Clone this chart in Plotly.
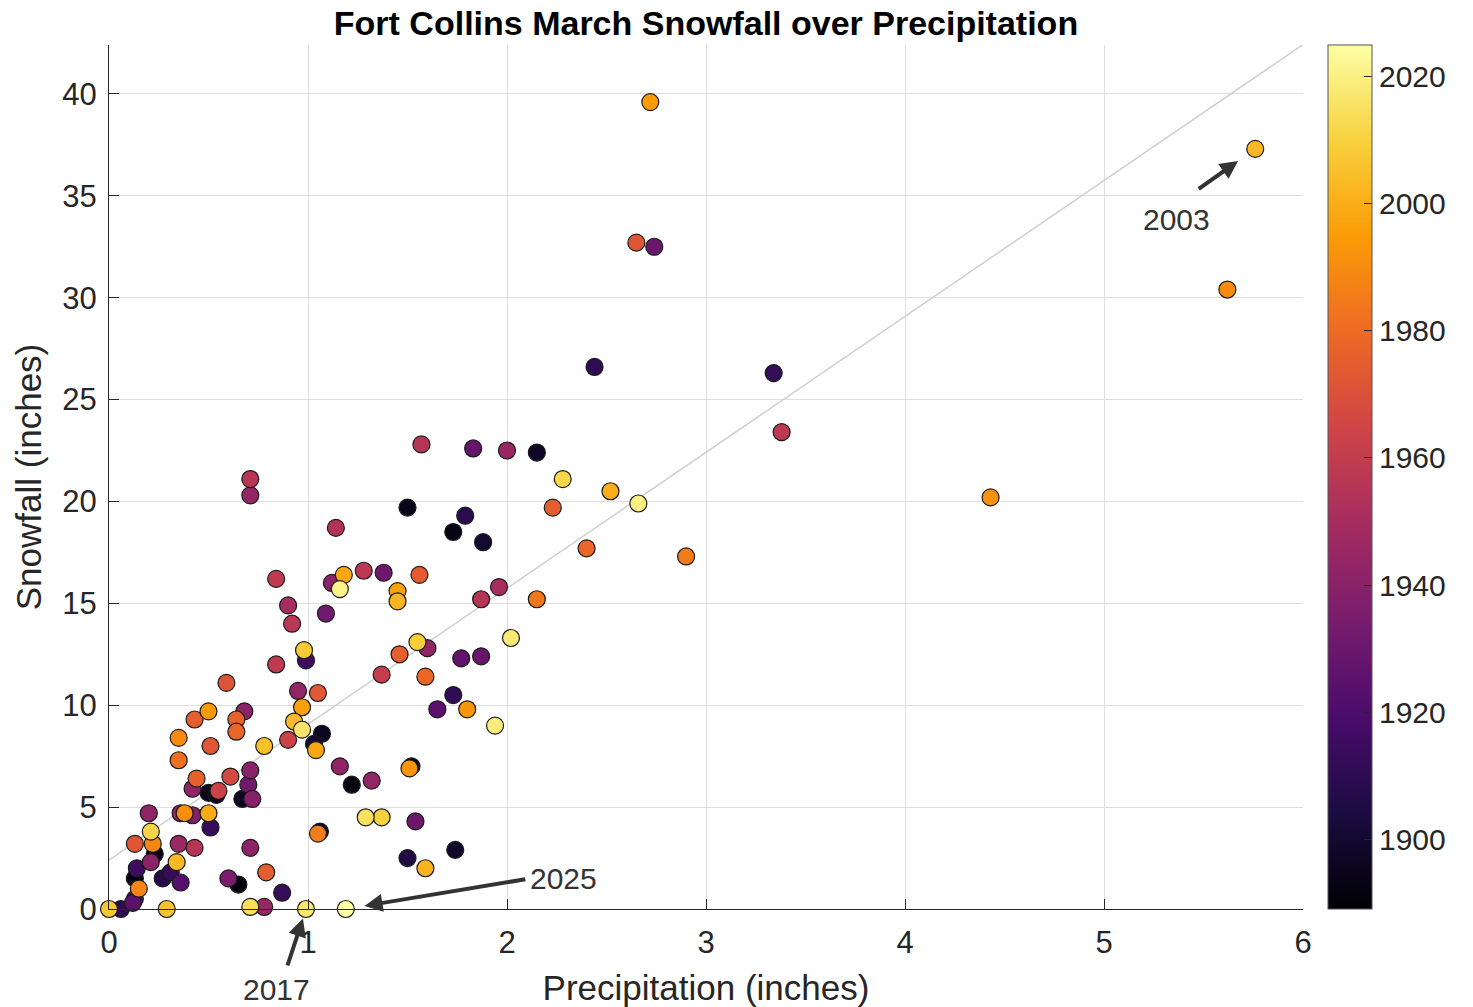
import numpy as np
import plotly.graph_objects as go

# ---- data (March totals, inches) ----
precip = [2.72, 5.76, 2.65, 2.74, 5.62, 2.44, 3.34, 3.38, 1.57, 1.83,
          2.00, 2.15, 0.71, 0.71, 2.28, 2.52, 2.66, 2.23, 4.43, 1.50,
          1.79, 1.73, 1.88, 1.14, 2.40, 2.90, 0.84, 1.12, 1.18, 1.16,
          1.28, 1.38, 1.56, 1.45, 1.45, 0.90, 0.92, 1.09, 0.98, 0.99,
          0.84, 1.87, 1.96, 2.15, 2.02, 1.55, 1.60, 1.46, 1.77, 1.87,
          1.37, 1.59, 0.95, 1.05, 1.73, 1.65, 1.80, 1.94, 0.97, 0.93,
          0.97, 0.90, 1.07, 1.03, 1.04, 1.16, 1.22, 1.32, 1.52, 1.51,
          1.29, 1.37, 1.54, 1.05, 1.06, 1.50, 1.74, 1.59, 0.99, 1.19,
          0.59, 0.50, 0.68, 0.43, 0.64, 0.64, 0.35, 0.51, 0.35, 0.78,
          0.44, 0.42, 0.50, 0.54, 0.55, 0.61, 0.71, 0.70, 0.67, 0.72,
          0.20, 0.36, 0.38, 0.42, 0.50, 0.51, 0.21, 0.22, 0.13, 0.23,
          0.21, 0.35, 0.43, 0.34, 0.14, 0.13, 0.15, 0.12, 0.13, 0.27,
          0.31, 0.36, 0.60, 0.65, 0.71, 0.79, 0.87, 0.00, 0.06, 0.29,
          0.71, 0.78]
snow = [39.6, 37.3, 32.7, 32.5, 30.4, 26.6, 26.3, 23.4, 22.8, 22.6,
        22.5, 22.4, 21.1, 20.3, 21.1, 20.5, 19.9, 19.7, 20.2, 19.7,
        19.3, 18.5, 18.0, 18.7, 17.7, 17.3, 16.2, 16.0, 16.4, 15.7,
        16.6, 16.5, 16.4, 15.6, 15.1, 14.9, 14.0, 14.5, 12.7, 12.2,
        12.0, 15.2, 15.8, 15.2, 13.3, 13.1, 12.8, 12.5, 12.3, 12.4,
        11.5, 11.4, 10.7, 10.6, 10.5, 9.8, 9.8, 9.0, 9.9, 9.2,
        8.8, 8.3, 8.6, 8.1, 7.8, 7.0, 6.1, 6.3, 7.0, 6.9,
        4.5, 4.5, 4.3, 3.7, 3.8, 2.5, 2.9, 2.0, 0.0, 0.0,
        11.1, 9.7, 9.7, 9.3, 9.3, 8.7, 8.4, 8.0, 7.3, 8.0,
        6.4, 5.9, 5.7, 5.6, 5.8, 6.5, 6.8, 6.1, 5.4, 5.4,
        4.7, 4.7, 4.7, 4.6, 4.7, 4.0, 3.8, 3.2, 3.2, 2.7,
        2.3, 3.2, 3.0, 2.3, 2.0, 1.5, 1.0, 0.3, 0.5, 1.5,
        1.8, 1.3, 1.5, 1.2, 3.0, 1.8, 0.8, 0.0, 0.0, 0.0,
        0.1, 0.1]
year = [1995, 2003, 1972, 1930, 1990, 1910, 1912, 1958, 1955, 1928,
        1945, 1897, 1956, 1944, 2012, 2000, 2020, 1975, 1992, 1895,
        1909, 1893, 1900, 1954, 1978, 1985, 1959, 1940, 1998, 2021,
        1957, 1931, 1974, 1997, 2002, 1950, 1957, 1932, 2008, 1915,
        1958, 1955, 1950, 1984, 2018, 2009, 1943, 1976, 1927, 1929,
        1960, 1979, 1943, 1973, 1911, 1925, 1993, 2019, 1996, 2004,
        2016, 1963, 1896, 1901, 1998, 1942, 1892, 1943, 1894, 1993,
        2015, 2010, 1930, 1985, 1898, 1905, 1899, 2002, 2017, 2025,
        1971, 1994, 1941, 1975, 1977, 1978, 1990, 1972, 1982, 2005,
        1976, 1942, 1895, 1896, 1963, 1966, 1940, 1932, 1896, 1939,
        1942, 1944, 1991, 1938, 1999, 1913, 2011, 1989, 1972, 1894,
        1940, 1946, 1955, 2003, 1916, 1893, 1988, 1924, 1918, 1908,
        1912, 1922, 1935, 1891, 1941, 1975, 1913, 2007, 1910, 2006,
        2014, 1945]

year_min, year_max = 1889, 2025
colorbar_ticks = [1900, 1920, 1940, 1960, 1980, 2000, 2020]
x_ticks = [0, 1, 2, 3, 4, 5, 6]
y_ticks = [0, 5, 10, 15, 20, 25, 30, 35, 40]
x_range = [0, 6]
y_range = [0, 42.4]
trend_intercept, trend_slope = 2.4, 6.67

callouts = {2003: dict(ax=-58, ay=41, standoff=21, xs=-79, ys=-71),
            2025: dict(ax=181, ay=-30, standoff=19, xs=218, ys=31),
            2017: dict(ax=-19, ay=58, standoff=10, xs=-30, ys=-80)}

# ---- figure ----
p = np.array(precip); s = np.array(snow); yr = np.array(year)
order = np.argsort(yr, kind="stable")

FONT = "Liberation Sans, Arial, sans-serif"
TXT = "#262626"
W, H = 1473, 1007

fig = go.Figure()
tx = np.array(x_range, dtype=float)
fig.add_trace(go.Scatter(x=tx, y=trend_intercept + trend_slope * tx, mode="lines",
                         line=dict(color="#cfcfcf", width=1.5), hoverinfo="skip",
                         showlegend=False))
fig.add_trace(go.Scatter(
    x=p[order], y=s[order], mode="markers", cliponaxis=False, showlegend=False,
    marker=dict(size=17, color=yr[order], colorscale="Inferno", cmin=year_min, cmax=year_max,
                line=dict(color="#1a1a1a", width=1.2),
                colorbar=dict(x=1.021, xanchor="left", xref="paper", y=0.5, yanchor="middle",
                              len=1.0, lenmode="fraction", thickness=44, ypad=0, xpad=0,
                              outlinecolor="#555555", outlinewidth=1,
                              tickvals=colorbar_ticks, ticks="inside", ticklen=8,
                              tickcolor="#262626",
                              tickfont=dict(family=FONT, size=30, color=TXT)))))

for yv, c in callouts.items():
    i = year.index(yv)
    fig.add_annotation(x=precip[i], y=snow[i], text="", showarrow=True, ax=c["ax"], ay=c["ay"],
                       arrowhead=2, arrowsize=0.9, arrowwidth=4, arrowcolor="#333333",
                       standoff=c["standoff"])
    fig.add_annotation(x=precip[i], y=snow[i], text=str(yv), showarrow=False,
                       xshift=c["xs"], yshift=c["ys"],
                       font=dict(family=FONT, size=30, color="#333333"))

axis_common = dict(showgrid=True, gridcolor="#dedede", gridwidth=1, zeroline=False,
                   showline=True, linecolor="#262626", linewidth=1.2,
                   ticks="inside", ticklen=10, tickcolor="#262626",
                   tickfont=dict(family=FONT, size=31, color=TXT))
fig.update_xaxes(range=x_range, tickvals=x_ticks, ticklabelstandoff=6, **axis_common,
                 title=dict(text="Precipitation (inches)", standoff=18,
                            font=dict(family=FONT, size=35, color=TXT)))
fig.update_yaxes(range=y_range, tickvals=y_ticks, ticklabelstandoff=5, **axis_common,
                 title=dict(text="Snowfall (inches)", standoff=9,
                            font=dict(family=FONT, size=35, color=TXT)))

fig.update_layout(
    width=W, height=H, autosize=False,
    margin=dict(l=109, r=170, t=45, b=98, autoexpand=False),
    paper_bgcolor="white", plot_bgcolor="white",
    title=dict(text="<b>Fort Collins March Snowfall over Precipitation</b>",
               x=0.5, xref="paper", xanchor="center", y=1 - 23 / H, yref="container",
               yanchor="middle", font=dict(family=FONT, size=34, color="black")),
)
fig.write_html("out.html", config={"displayModeBar": False},
               post_script="document.body.style.margin='0';document.body.style.overflow='hidden';")
